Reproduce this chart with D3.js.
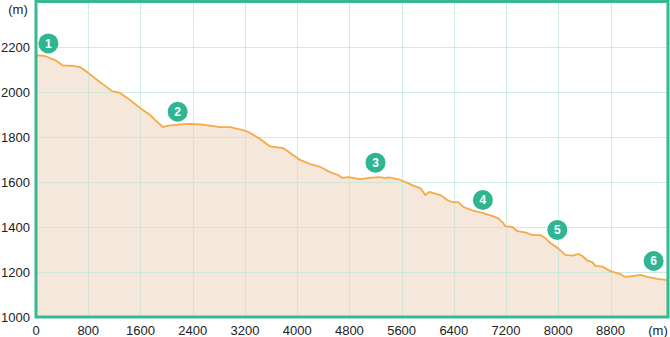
<!DOCTYPE html>
<html>
<head>
<meta charset="utf-8">
<script src="https://cdn.jsdelivr.net/npm/d3@7"></script>
<style>
  body { margin: 0; background: #fff; }
  text { font-family: Helvetica, Arial, "Liberation Sans", sans-serif; }
</style>
</head>
<body>
<div id="chart"></div>
<script>
// elevation profile, distance (m) vs altitude (m)
const distances = [0, 138, 291, 414, 567, 674, 782, 981, 1165, 1287, 1441, 1594, 1747, 1824, 1946,
  2008, 2207, 2360, 2513, 2667, 2820, 2973, 3172, 3280, 3433, 3586, 3786, 3893, 4046, 4199,
  4353, 4506, 4628, 4690, 4782, 4966, 5119, 5241, 5349, 5425, 5579, 5686, 5778, 5885, 5931,
  5962, 6023, 6085, 6192, 6299, 6376, 6468, 6544, 6697, 6851, 7004, 7081, 7142, 7188, 7295,
  7372, 7494, 7602, 7724, 7801, 7878, 7924, 8000, 8108, 8215, 8307, 8368, 8445, 8521, 8567,
  8675, 8797, 8950, 9027, 9134, 9257, 9364, 9517, 9671];
const elevations = [2164, 2160, 2142, 2118, 2116, 2111, 2089, 2044, 2004, 1996, 1964, 1929, 1898, 1876, 1844,
  1849, 1856, 1858, 1856, 1851, 1844, 1844, 1831, 1818, 1791, 1758, 1751, 1729, 1698, 1680,
  1667, 1644, 1631, 1618, 1622, 1613, 1618, 1622, 1618, 1620, 1609, 1596, 1584, 1573, 1556,
  1542, 1556, 1551, 1542, 1520, 1511, 1511, 1489, 1473, 1462, 1447, 1438, 1422, 1404, 1400,
  1382, 1376, 1364, 1364, 1351, 1329, 1320, 1304, 1276, 1273, 1280, 1271, 1251, 1244, 1227,
  1224, 1204, 1191, 1178, 1182, 1187, 1178, 1169, 1164];

// numbered waypoints
const markerLabels = ["1", "2", "3", "4", "5", "6"];
const markerDist = [190, 2170, 5200, 6845, 7985, 9460];
const markerElev = [2216, 1912, 1686, 1520, 1387, 1249];

const xTicks = [0, 800, 1600, 2400, 3200, 4000, 4800, 5600, 6400, 7200, 8000, 8800];
const yTicks = [1000, 1200, 1400, 1600, 1800, 2000, 2200];

const width = 670, height = 337;
const plotLeft = 36, plotRight = 668, plotTop = 2, plotBottom = 317;

const x = d3.scaleLinear().domain([0, 9680]).range([plotLeft, plotRight]);
const y = d3.scaleLinear().domain([1000, 2400]).range([plotBottom, plotTop]);

const svg = d3.select("#chart").append("svg")
  .attr("width", width)
  .attr("height", height);

const data = distances.map((d, i) => ({ d: d, e: elevations[i] }));

// area first, grid drawn over it so it shows through
const area = d3.area()
  .x(d => x(d.d))
  .y0(y(1000))
  .y1(d => y(d.e));

svg.append("path")
  .datum(data)
  .attr("fill", "#f5e8da")
  .attr("d", area);

// grid
svg.append("g")
  .attr("stroke", "#bfe6d6")
  .attr("stroke-opacity", 0.75)
  .attr("stroke-width", 1)
  .selectAll("line")
  .data(xTicks.slice(1))
  .enter()
  .append("line")
  .attr("x1", d => Math.round(x(d)) + 0.5)
  .attr("x2", d => Math.round(x(d)) + 0.5)
  .attr("y1", plotTop)
  .attr("y2", plotBottom);

svg.append("g")
  .attr("stroke", "#bfe6d6")
  .attr("stroke-opacity", 0.75)
  .attr("stroke-width", 1)
  .selectAll("line")
  .data(yTicks.slice(1))
  .enter()
  .append("line")
  .attr("x1", plotLeft)
  .attr("x2", plotRight)
  .attr("y1", d => Math.round(y(d)) + 0.5)
  .attr("y2", d => Math.round(y(d)) + 0.5);

const line = d3.line()
  .x(d => x(d.d))
  .y(d => y(d.e));

svg.append("path")
  .datum(data)
  .attr("fill", "none")
  .attr("stroke", "#f6a945")
  .attr("stroke-width", 1.8)
  .attr("stroke-linejoin", "round")
  .attr("d", line);

// frame
svg.append("rect")
  .attr("x", plotLeft)
  .attr("y", plotTop - 0.5)
  .attr("width", plotRight - plotLeft)
  .attr("height", plotBottom - plotTop + 0.5)
  .attr("fill", "none")
  .attr("stroke", "#36b893")
  .attr("stroke-width", 3);

// tick labels
svg.append("g")
  .selectAll("text")
  .data(yTicks)
  .enter()
  .append("text")
  .attr("x", 30)
  .attr("y", d => y(d) + 5)
  .attr("text-anchor", "end")
  .attr("font-size", "13px")
  .attr("fill", "#222")
  .text(d => d);

svg.append("g")
  .selectAll("text")
  .data(xTicks)
  .enter()
  .append("text")
  .attr("x", d => x(d))
  .attr("y", 335)
  .attr("text-anchor", "middle")
  .attr("font-size", "13px")
  .attr("fill", "#222")
  .text(d => d);

svg.append("text")
  .attr("x", 18).attr("y", 14)
  .attr("text-anchor", "middle")
  .attr("font-size", "13px")
  .attr("fill", "#222")
  .text("(m)");

svg.append("text")
  .attr("x", 658).attr("y", 335)
  .attr("text-anchor", "middle")
  .attr("font-size", "13px")
  .attr("fill", "#222")
  .text("(m)");

// markers
const markers = svg.append("g")
  .selectAll("g")
  .data(markerLabels)
  .enter()
  .append("g")
  .attr("transform", (d, i) => "translate(" + x(markerDist[i]) + "," + y(markerElev[i]) + ")");

markers.append("circle")
  .attr("r", 10)
  .attr("fill", "#2fb592");

markers.append("text")
  .attr("text-anchor", "middle")
  .attr("dy", "0.36em")
  .attr("font-size", "12px")
  .attr("font-weight", "bold")
  .attr("fill", "#fff")
  .text(d => d);
</script>
</body>
</html>
